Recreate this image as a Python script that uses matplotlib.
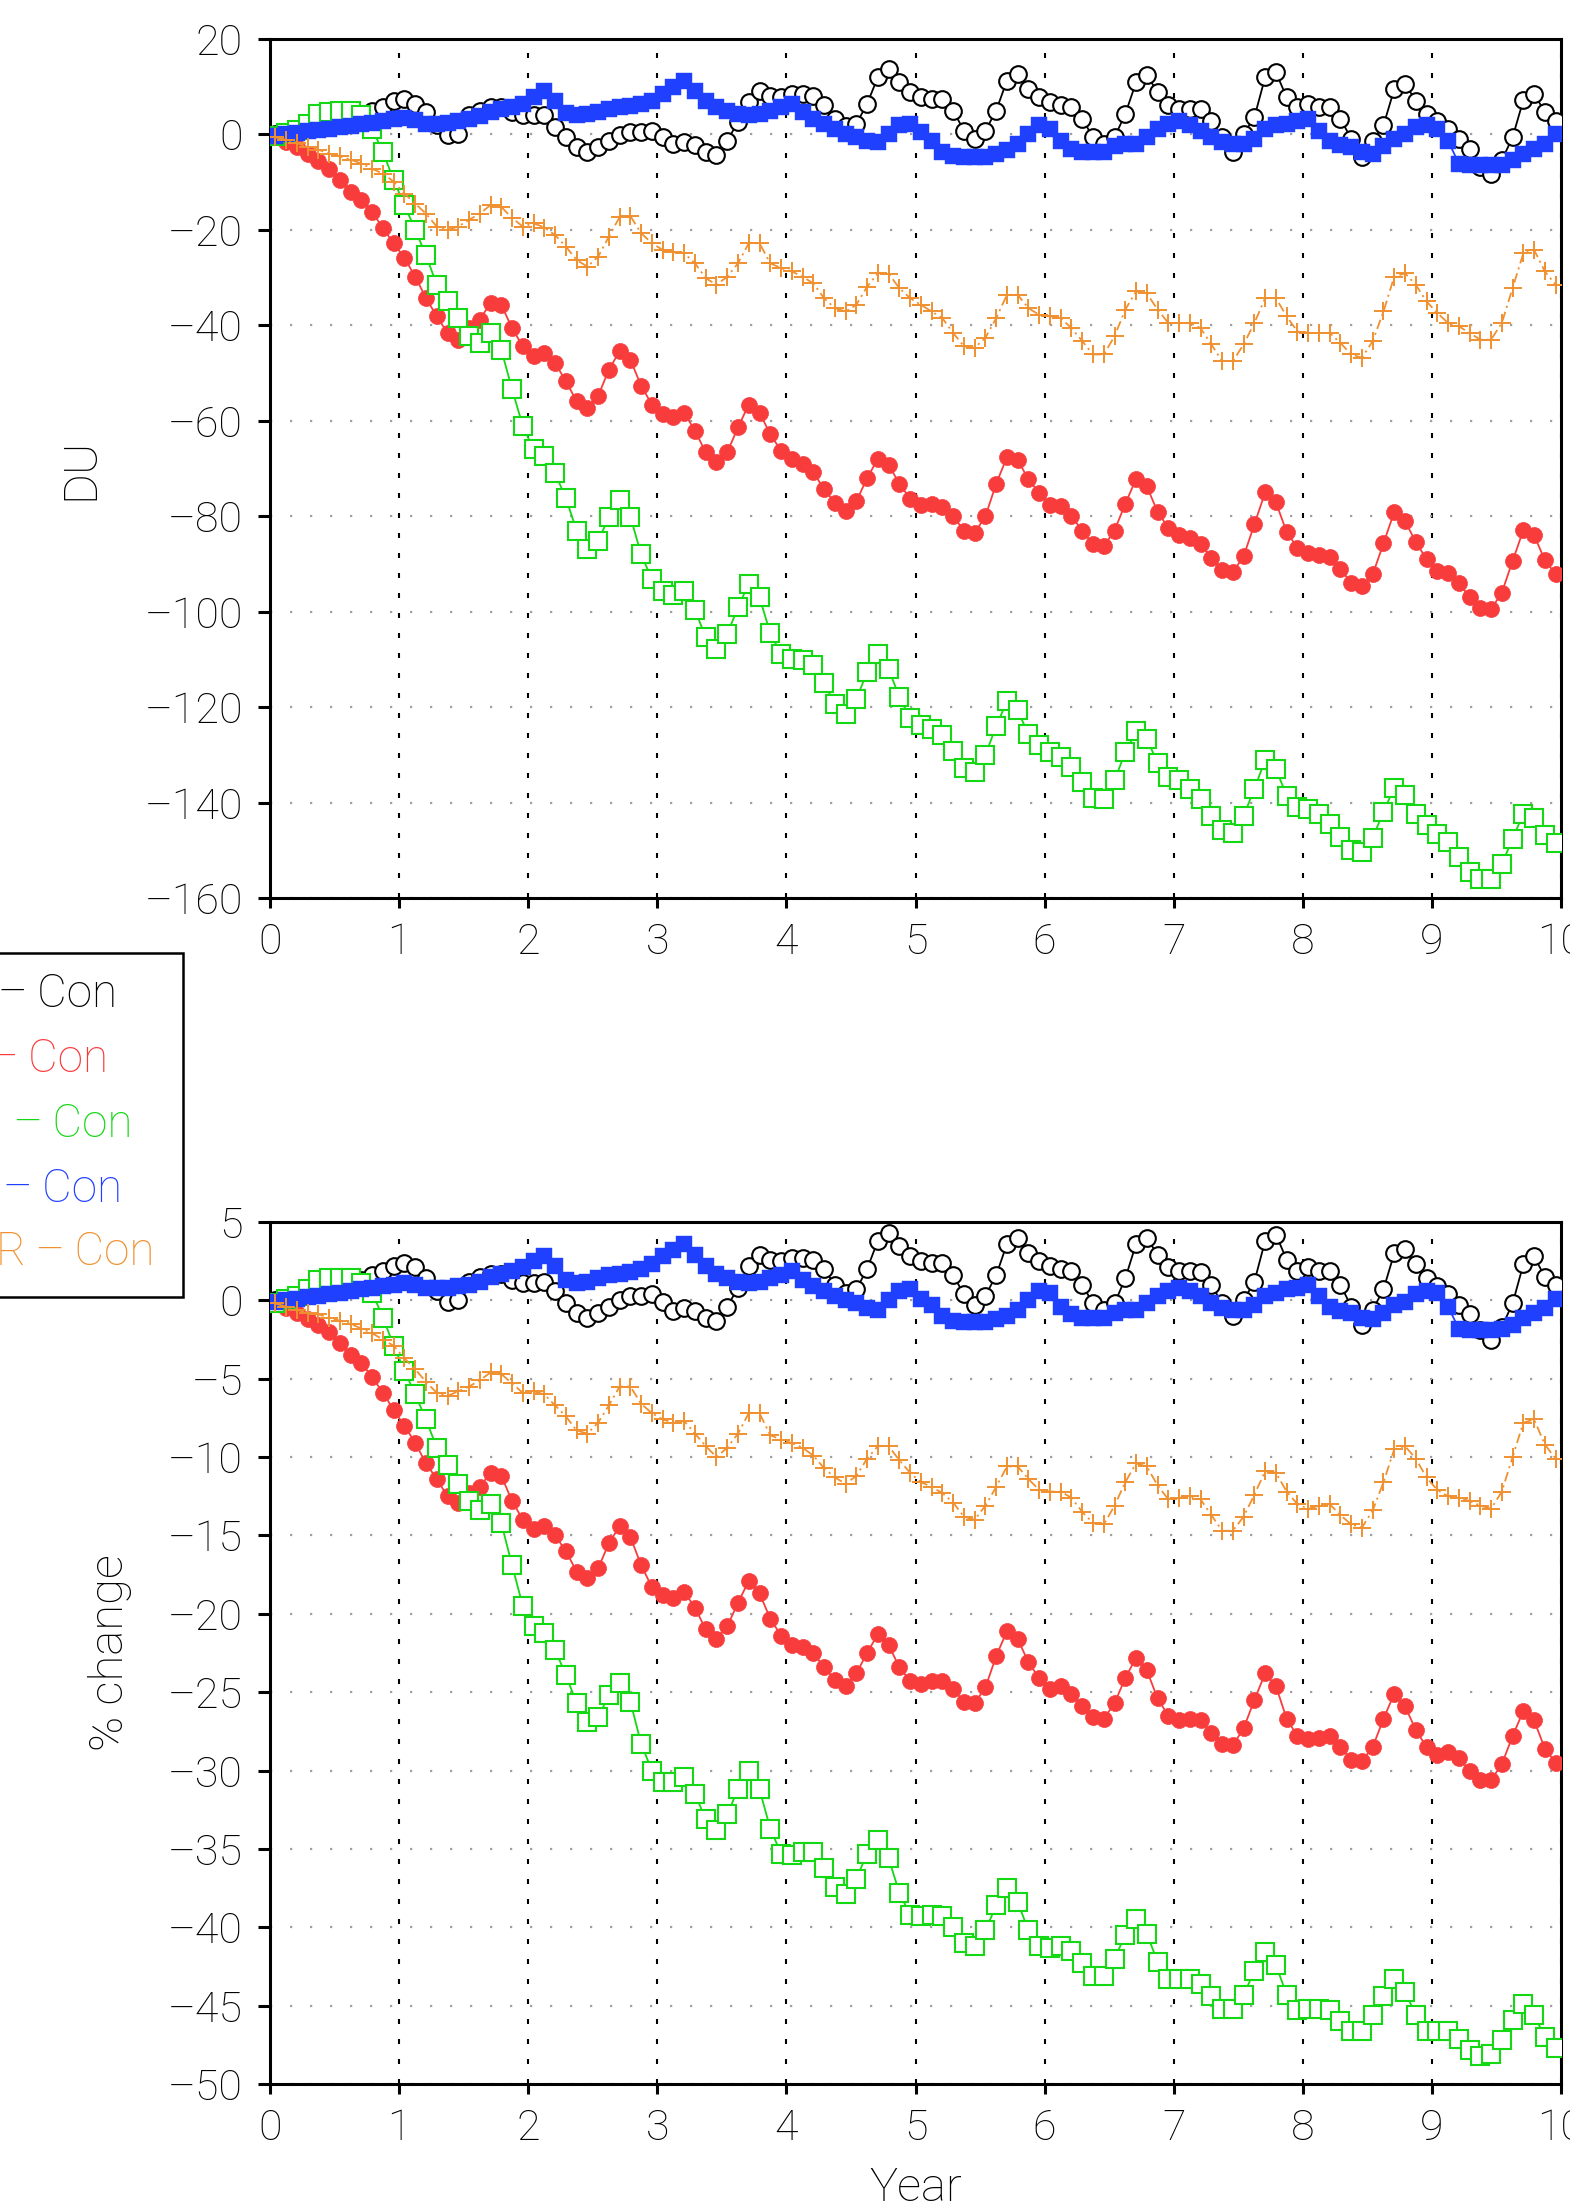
#python3
# two-panel ozone change plot (DU and % change vs. year)

import numpy as np
import matplotlib
matplotlib.use('Agg')
import matplotlib.pyplot as plt
from matplotlib.patches import Rectangle
from matplotlib.ticker import FuncFormatter

plt.rcParams['font.family'] = ['Roboto', 'DejaVu Sans']
plt.rcParams['font.weight'] = 'light'
plt.rcParams['axes.labelweight'] = 'light'
plt.rcParams['lines.scale_dashes'] = False

# monthly values, 120 months (plotted at mid-month)
months = np.arange(120)
years = (months + 0.5) / 12.0

# ---------------- top panel: DU ----------------
black_du = [0.0, 0.4, 0.8, 1.2, 1.5, 2.0, 2.5, 3.0, 4.0, 5.0,
            5.7, 7.1, 7.4, 6.4, 4.7, 2.0, -0.2, 0.1, 4.0, 5.0,
            5.7, 5.7, 4.7, 4.0, 4.0, 4.0, 1.5, -0.6, -2.6, -3.7,
            -2.6, -1.3, -0.2, 0.5, 0.5, 0.8, -0.6, -1.9, -1.6, -2.3,
            -3.7, -4.4, -1.3, 2.6, 6.7, 9.2, 8.1, 7.8, 8.5, 8.5,
            8.1, 6.1, 3.3, 1.8, 2.2, 6.4, 12.0, 13.7, 11.0, 8.8,
            7.8, 7.4, 7.4, 5.0, 0.8, -0.9, 0.8, 5.0, 11.3, 12.7,
            9.5, 7.8, 6.7, 6.1, 5.7, 3.3, -0.6, -1.9, -0.6, 4.3,
            10.9, 12.5, 8.8, 6.1, 5.4, 5.4, 5.4, 2.9, -0.6, -3.7,
            0.1, 3.6, 12.0, 13.0, 7.8, 5.7, 6.4, 5.7, 5.7, 3.3,
            -0.9, -4.7, -1.3, 1.9, 9.5, 10.6, 7.1, 4.3, 2.9, 1.2,
            -0.9, -3.0, -6.8, -8.2, -5.4, -0.6, 7.2, 8.5, 4.7, 2.9]

red_du = [-0.5, -1.5, -2.7, -4.0, -5.5, -7.2, -9.6, -12.0, -13.8, -16.2,
          -19.7, -22.8, -25.9, -29.8, -34.3, -38.1, -41.6, -43.0, -40.6, -38.8,
          -35.3, -35.7, -40.6, -44.4, -46.5, -45.8, -47.9, -51.7, -55.9, -57.3,
          -54.8, -49.3, -45.4, -47.2, -52.7, -56.6, -58.6, -59.3, -58.3, -62.1,
          -66.6, -68.7, -66.6, -61.4, -56.6, -58.3, -62.8, -66.3, -68.0, -69.1,
          -70.8, -74.3, -77.2, -79.0, -76.9, -72.0, -68.0, -69.2, -73.2, -76.3,
          -77.6, -77.4, -78.1, -80.0, -83.0, -83.5, -80.0, -73.2, -67.6, -68.2,
          -72.3, -75.1, -77.6, -77.9, -80.0, -83.0, -85.9, -86.3, -83.0, -77.4,
          -72.2, -73.7, -79.1, -82.4, -84.0, -84.5, -85.8, -88.7, -91.3, -91.7,
          -88.4, -81.7, -75.0, -77.1, -83.3, -86.6, -87.8, -88.2, -88.5, -91.1,
          -93.9, -94.6, -92.2, -85.7, -79.1, -81.0, -85.4, -89.0, -91.5, -92.0,
          -93.9, -97.0, -99.3, -99.5, -96.0, -89.4, -82.9, -84.0, -89.2, -92.2]

green_du = [-0.3, 0.3, 1.0, 2.2, 4.3, 4.7, 5.0, 5.0, 4.0, 1.2,
            -3.7, -9.6, -14.8, -20.0, -25.3, -31.5, -35.0, -38.5, -42.3, -43.7,
            -41.6, -45.1, -53.4, -61.1, -66.0, -67.4, -71.0, -76.2, -83.0, -86.8,
            -85.2, -80.2, -76.5, -80.1, -88.0, -93.2, -95.7, -96.5, -95.7, -99.6,
            -105.4, -107.8, -104.7, -99.1, -94.1, -97.0, -104.5, -108.9, -109.9, -110.1,
            -111.2, -115.0, -119.3, -121.4, -118.3, -112.7, -108.9, -112.0, -117.9, -122.3,
            -123.7, -124.5, -125.9, -129.1, -132.7, -133.6, -130.0, -124.0, -118.8, -120.7,
            -125.7, -128.0, -129.4, -130.5, -132.5, -135.7, -139.0, -139.3, -135.3, -129.5,
            -125.1, -126.6, -131.7, -134.6, -135.3, -137.2, -139.2, -142.8, -145.8, -146.3,
            -142.8, -137.1, -131.1, -132.9, -138.6, -140.9, -141.4, -142.5, -144.4, -147.2,
            -149.9, -150.4, -147.4, -141.9, -136.9, -138.5, -142.5, -144.7, -146.5, -148.3,
            -151.5, -154.5, -156.0, -156.0, -152.9, -147.6, -142.3, -143.2, -146.9, -148.5]

blue_du = [-0.3, 0.0, 0.4, 0.7, 1.0, 1.2, 1.5, 1.8, 2.1, 2.5,
           2.9, 3.3, 3.5, 3.0, 2.2, 2.2, 2.5, 2.8, 3.2, 3.8,
           4.6, 5.3, 5.8, 6.4, 7.8, 9.2, 7.1, 4.5, 4.0, 4.2,
           4.8, 5.3, 5.7, 6.0, 6.4, 7.1, 8.5, 9.9, 11.3, 9.2,
           7.1, 5.7, 5.0, 4.3, 4.0, 4.3, 5.0, 5.7, 6.4, 4.7,
           3.3, 2.2, 1.2, 0.1, -0.6, -1.3, -1.6, 0.1, 1.9, 2.2,
           0.5, -1.3, -3.7, -4.5, -4.7, -4.7, -4.7, -4.0, -3.3, -1.9,
           0.1, 1.9, 1.2, -1.3, -3.0, -3.7, -3.7, -3.7, -2.5, -1.9,
           -1.9, -0.6, 1.2, 2.2, 2.9, 1.9, 0.8, -0.6, -1.5, -1.9,
           -1.9, -0.9, 1.2, 1.9, 2.2, 2.8, 3.3, 0.8, -1.3, -2.2,
           -2.6, -3.7, -4.0, -2.5, -1.0, 0.1, 1.5, 1.9, 1.2, -1.3,
           -6.1, -6.5, -6.5, -6.5, -6.3, -5.4, -4.0, -3.0, -1.9, 0.1]

orange_du = [-0.6, -1.1, -1.8, -2.6, -3.2, -4.0, -4.6, -5.3, -6.1, -7.2,
             -8.2, -9.9, -12.4, -14.5, -16.6, -19.3, -20.0, -19.3, -17.9, -16.6,
             -14.8, -15.2, -17.5, -19.3, -18.6, -19.5, -21.1, -23.5, -26.3, -27.7,
             -25.6, -21.4, -17.3, -17.1, -20.7, -22.8, -24.2, -24.6, -24.9, -27.0,
             -30.1, -31.5, -29.8, -27.0, -22.8, -22.8, -27.0, -28.0, -28.7, -29.8,
             -31.2, -34.3, -36.4, -37.1, -35.7, -31.9, -29.1, -29.2, -32.2, -34.3,
             -35.7, -37.1, -38.5, -41.6, -44.4, -44.7, -42.6, -38.5, -33.6, -33.6,
             -36.4, -37.8, -38.1, -38.5, -40.6, -43.3, -46.1, -46.1, -42.3, -36.7,
             -32.9, -33.3, -36.7, -39.5, -39.5, -39.5, -40.6, -44.0, -47.5, -47.5,
             -44.0, -39.5, -34.3, -34.3, -38.1, -41.3, -41.6, -41.6, -41.6, -43.7,
             -46.1, -46.8, -43.3, -37.1, -29.8, -29.1, -31.5, -35.0, -37.4, -39.5,
             -40.2, -41.6, -43.0, -43.0, -39.5, -32.2, -24.9, -24.2, -28.7, -31.5]

# ---------------- bottom panel: % change ----------------
black_pct = [0.0, 0.1, 0.3, 0.4, 0.5, 0.7, 0.8, 1.0, 1.3, 1.6,
             1.9, 2.2, 2.4, 2.1, 1.4, 0.6, -0.1, 0.0, 1.2, 1.5,
             1.7, 1.7, 1.3, 1.1, 1.1, 1.2, 0.6, -0.2, -0.8, -1.1,
             -0.8, -0.4, 0.0, 0.3, 0.3, 0.4, -0.1, -0.7, -0.5, -0.7,
             -1.1, -1.3, -0.4, 0.8, 2.2, 2.9, 2.6, 2.5, 2.7, 2.7,
             2.6, 2.0, 1.0, 0.5, 0.7, 2.0, 3.8, 4.3, 3.5, 2.8,
             2.5, 2.4, 2.4, 1.6, 0.4, -0.3, 0.3, 1.6, 3.6, 4.0,
             3.0, 2.5, 2.2, 2.0, 1.9, 1.0, -0.2, -0.6, -0.2, 1.4,
             3.6, 4.0, 2.9, 2.1, 1.9, 1.9, 1.8, 1.0, -0.2, -1.0,
             0.0, 1.2, 3.8, 4.2, 2.6, 1.9, 2.1, 1.9, 1.9, 1.0,
             -0.4, -1.6, -0.6, 0.7, 3.0, 3.3, 2.3, 1.4, 0.9, 0.4,
             -0.3, -0.9, -1.9, -2.5, -1.7, -0.2, 2.3, 2.8, 1.5, 1.0]

red_pct = [-0.2, -0.5, -0.8, -1.2, -1.6, -2.0, -2.7, -3.5, -4.0, -4.9,
           -5.9, -7.0, -8.0, -9.1, -10.4, -11.4, -12.5, -12.9, -12.3, -11.9,
           -11.0, -11.2, -12.8, -14.0, -14.6, -14.4, -15.0, -16.0, -17.3, -17.7,
           -17.1, -15.5, -14.4, -15.1, -16.9, -18.3, -18.8, -19.0, -18.6, -19.6,
           -21.0, -21.6, -20.8, -19.3, -17.9, -18.7, -20.3, -21.4, -22.0, -22.1,
           -22.5, -23.4, -24.2, -24.6, -23.8, -22.5, -21.3, -22.0, -23.4, -24.3,
           -24.5, -24.3, -24.3, -24.8, -25.6, -25.7, -24.7, -22.7, -21.1, -21.6,
           -23.1, -24.1, -24.8, -24.6, -25.1, -25.9, -26.6, -26.7, -25.7, -24.1,
           -22.8, -23.6, -25.4, -26.5, -26.8, -26.7, -26.8, -27.6, -28.3, -28.4,
           -27.3, -25.5, -23.8, -24.6, -26.7, -27.8, -28.0, -27.9, -27.8, -28.5,
           -29.3, -29.4, -28.5, -26.7, -25.1, -25.9, -27.4, -28.5, -29.0, -28.8,
           -29.2, -30.0, -30.6, -30.6, -29.6, -27.8, -26.2, -26.8, -28.6, -29.5]

green_pct = [-0.2, 0.1, 0.3, 0.7, 1.3, 1.4, 1.4, 1.4, 1.1, 0.5,
             -1.1, -2.9, -4.5, -6.0, -7.6, -9.4, -10.5, -11.7, -12.8, -13.4,
             -13.0, -14.2, -16.9, -19.5, -20.8, -21.2, -22.3, -23.9, -25.7, -26.9,
             -26.6, -25.2, -24.4, -25.6, -28.3, -30.0, -30.7, -30.7, -30.4, -31.5,
             -33.1, -33.8, -32.8, -31.2, -30.0, -31.2, -33.7, -35.3, -35.4, -35.2,
             -35.2, -36.2, -37.4, -37.9, -36.9, -35.3, -34.4, -35.6, -37.8, -39.2,
             -39.3, -39.2, -39.3, -40.0, -41.0, -41.2, -40.2, -38.6, -37.5, -38.4,
             -40.2, -41.2, -41.3, -41.2, -41.5, -42.3, -43.1, -43.1, -42.0, -40.5,
             -39.5, -40.4, -42.2, -43.3, -43.3, -43.3, -43.6, -44.4, -45.2, -45.2,
             -44.3, -42.8, -41.6, -42.4, -44.3, -45.3, -45.2, -45.2, -45.3, -46.0,
             -46.6, -46.6, -45.6, -44.4, -43.3, -44.1, -45.6, -46.6, -46.6, -46.6,
             -47.1, -47.8, -48.2, -48.1, -47.2, -45.9, -44.9, -45.6, -47.0, -47.7]

blue_pct = [-0.1, 0.0, 0.1, 0.2, 0.3, 0.4, 0.5, 0.6, 0.7, 0.8,
            0.9, 1.0, 1.1, 1.0, 0.8, 0.8, 0.8, 0.9, 1.0, 1.2,
            1.5, 1.7, 1.9, 2.1, 2.5, 2.8, 2.2, 1.3, 1.1, 1.2,
            1.4, 1.6, 1.7, 1.8, 2.0, 2.3, 2.8, 3.2, 3.6, 2.9,
            2.2, 1.7, 1.4, 1.2, 1.1, 1.2, 1.4, 1.6, 1.9, 1.3,
            0.9, 0.6, 0.3, 0.0, -0.2, -0.5, -0.6, 0.0, 0.6, 0.7,
            0.1, -0.3, -1.0, -1.3, -1.4, -1.4, -1.4, -1.2, -1.0, -0.6,
            0.0, 0.6, 0.5, -0.4, -0.9, -1.1, -1.1, -1.1, -0.8, -0.6,
            -0.6, -0.2, 0.3, 0.6, 0.8, 0.6, 0.3, -0.2, -0.5, -0.6,
            -0.6, -0.3, 0.3, 0.5, 0.7, 0.8, 1.0, 0.3, -0.4, -0.7,
            -0.8, -1.1, -1.2, -0.8, -0.3, -0.1, 0.4, 0.6, 0.5, -0.4,
            -1.8, -1.9, -1.9, -1.9, -1.8, -1.6, -1.1, -0.8, -0.5, 0.1]

orange_pct = [-0.2, -0.4, -0.6, -0.8, -0.9, -1.1, -1.3, -1.5, -1.8, -2.1,
              -2.5, -2.9, -3.7, -4.4, -5.2, -5.9, -6.1, -5.8, -5.5, -5.1,
              -4.6, -4.7, -5.3, -5.9, -5.8, -6.0, -6.7, -7.4, -8.3, -8.5,
              -7.8, -6.7, -5.5, -5.5, -6.6, -7.2, -7.6, -7.8, -7.7, -8.5,
              -9.3, -10.0, -9.4, -8.5, -7.2, -7.2, -8.6, -8.9, -9.1, -9.4,
              -9.9, -10.7, -11.3, -11.7, -11.2, -10.1, -9.3, -9.3, -10.2, -11.0,
              -11.6, -11.9, -12.3, -12.9, -13.8, -14.0, -13.1, -11.9, -10.6, -10.6,
              -11.4, -12.1, -12.2, -12.2, -12.6, -13.5, -14.2, -14.3, -13.1, -11.6,
              -10.4, -10.6, -11.8, -12.7, -12.6, -12.5, -12.7, -13.7, -14.7, -14.7,
              -13.8, -12.4, -10.9, -11.0, -12.2, -13.0, -13.3, -13.1, -13.0, -13.7,
              -14.3, -14.5, -13.4, -11.6, -9.5, -9.3, -10.1, -11.3, -12.1, -12.5,
              -12.6, -12.8, -13.1, -13.3, -12.2, -10.0, -7.8, -7.6, -9.2, -10.1]

legend_labels = ['\u2013\u2009Con', '\u2013\u2009Con', '\u2009\u2013\u2009Con',
                 '\u2013\u2009Con', 'R\u2009\u2013\u2009Con']

top_ticks = np.arange(-160, 21, 20)
bot_ticks = np.arange(-50, 6, 5)
year_ticks = np.arange(0, 11, 1)

#colors
c_black = 'black'
c_red = '#f83c3c'
c_green = '#14d814'
c_blue = '#2040ff'
c_orange = '#f09030'


def dash_minus(v, pos):
    #long dash for negative numbers, like the original plot
    if v < 0:
        return '\u2013%d' % (-v)
    return '%d' % v


W = 1570.0
H = 2207.0
fig = plt.figure(figsize=(W/100, H/100), dpi=100)

ax1 = fig.add_axes([270/W, 1-898/H, 1291/W, 859/H])
ax2 = fig.add_axes([270/W, 1-2084/H, 1291/W, 862/H])


def draw_panel(ax, blk, red, grn, blu, org):
    ax.plot(years, blk, '-', color=c_black, lw=1.3, marker='o', ms=12,
            mfc='white', mec=c_black, mew=1.5, zorder=3)
    ax.plot(years, red, '-', color=c_red, lw=1.3, marker='o', ms=11.5,
            mfc=c_red, mec=c_red, mew=0.5, zorder=4)
    ax.plot(years, grn, '-', color=c_green, lw=1.3, marker='s', ms=12.5,
            mfc='white', mec=c_green, mew=1.5, zorder=5)
    ax.plot(years, blu, '-', color=c_blue, lw=1.3, marker='s', ms=11.5,
            mfc=c_blue, mec=c_blue, mew=0.3, zorder=6)
    ax.plot(years, org, color=c_orange, lw=1.3, linestyle=(0, (7, 3, 1.5, 3)),
            marker='+', ms=13, mew=1.4, zorder=7)

    #grid: vertical black dots, horizontal grey dots
    ax.set_axisbelow(True)
    ax.xaxis.grid(True, color='black', lw=1.5, linestyle=(0, (3.6, 10.8)))
    ax.yaxis.grid(True, color='#a0a0a0', lw=1.6, linestyle=(0, (1.6, 12.8)))

    ax.set_xlim(0, 10)
    ax.set_xticks(year_ticks)
    ax.yaxis.set_major_formatter(FuncFormatter(dash_minus))
    ax.tick_params(axis='x', direction='out', length=7, width=2.2, pad=10,
                   labelsize=31)
    ax.tick_params(axis='y', direction='out', length=8.6, width=2.2, pad=11,
                   labelsize=31)
    for s in ax.spines.values():
        s.set_linewidth(2.2)


draw_panel(ax1, black_du, red_du, green_du, blue_du, orange_du)
ax1.set_ylim(-160, 20)
ax1.set_yticks(top_ticks)
ax1.set_ylabel('DU', fontsize=34, va='center', fontweight='light')
ax1.yaxis.set_label_coords(-0.147, 0.5)

draw_panel(ax2, black_pct, red_pct, green_pct, blue_pct, orange_pct)
ax2.set_ylim(-50, 5)
ax2.set_yticks(bot_ticks)
ax2.set_ylabel('% change', fontsize=34, va='center', fontweight='light')
ax2.yaxis.set_label_coords(-0.124, 0.5)
ax2.set_xlabel('Year', fontsize=34, fontweight='light')
ax2.xaxis.set_label_coords(0.5, -0.095)

#legend box (runs off the left edge of the page)
box = Rectangle((-20/W, 1-1297/H), 203/W, 344/H, transform=fig.transFigure,
                fill=False, lw=1.8, ec='black')
fig.patches.append(box)
leg_colors = [c_black, c_red, c_green, c_blue, c_orange]
leg_right = [117, 108, 133, 122, 154]
leg_base = [1007, 1072, 1137, 1202, 1265]
for lab, col, xr, yb in zip(legend_labels, leg_colors, leg_right, leg_base):
    fig.text(xr/W, 1-yb/H, lab, color=col, fontsize=33, ha='right',
             va='baseline')

plt.savefig('out.png', dpi=100)
